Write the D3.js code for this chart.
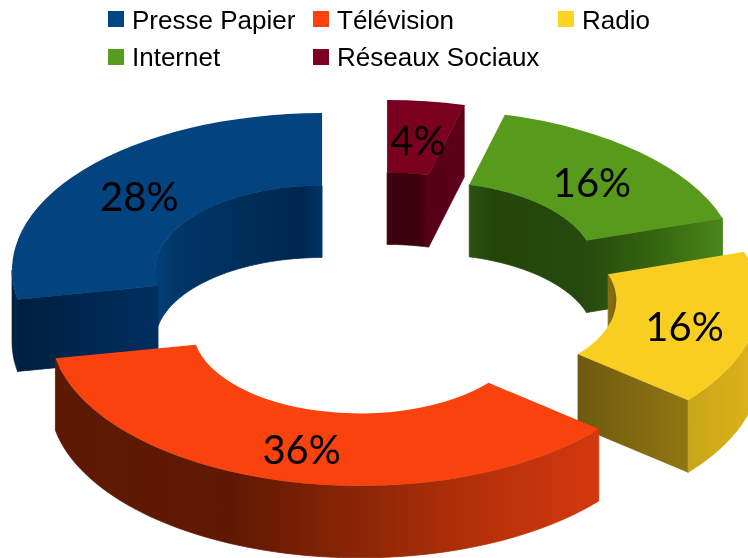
<!DOCTYPE html>
<html><head><meta charset="utf-8">
<script src="https://cdnjs.cloudflare.com/ajax/libs/d3/7.8.5/d3.min.js"></script>
<style>html,body{margin:0;padding:0;background:#fff}svg{display:block;filter:blur(0.4px)}</style>
</head><body><script>
const categories = ["Presse Papier","Télévision","Radio","Internet","Réseaux Sociaux"];
const values = [28,36,16,16,4];
const baseColors = ["#004586","#ff420e","#ffd320","#579d1c","#7e0021"];
const topColors = ["#03437f","#f9420e","#f8cf20","#579a1c","#7a0020"];
const innerStops = [
  [[0,"#013e79"],[.12,"#003768"],[.88,"#00264e"],[1,"#003766"]], null, [[0,"#8a6f10"],[1,"#7a6410"]],
  [[0,"#2b5210"],[.2,"#244509"],[1,"#264a0e"]], [[0,"#3e0010"],[.75,"#3c000f"],[1,"#560017"]]];
const cutStops = [
  [[0,"#001f40"],[1,"#002f5f"]], null, [[0,"#6d5a0f"],[1,"#917612"]],
  [[0,"#264a0e"],[.5,"#35650f"],[1,"#4a8619"]], [[0,"#560017"],[1,"#5f0019"]]];
const outerStops = [
  [[0,"#001f40"],[1,"#00234a"]],
  [[0,"#5c1a03"],[.33,"#611803"],[.55,"#8a2506"],[.8,"#b9310a"],[1,"#d4380d"]],
  [[0,"#c9a519"],[1,"#dcb41c"]], null, null];
const drawOrder = [0,4,3,2,1];

const W=748,H=558, CX=378,CY=293.4, RO=310,RI=167,K=.506,DEPTH=72,EXPLODE=72.6;
const svg=d3.select("body").append("svg").attr("width",W).attr("height",H);
const defs=svg.append("defs");
const arcs=d3.pie().sort(null).startAngle(0).endAngle(-2*Math.PI)(values);
const total=d3.sum(values), pct=d3.format(".0%");
const arcGen=d3.arc().innerRadius(RI).outerRadius(RO);
const line=d3.line().x(d=>d[0]).y(d=>d[1]);
const pt=(c,a,r,z=0)=>[c[0]-Math.sin(a)*r, c[1]-Math.cos(a)*r*K+z];
const samples=(a0,a1)=>d3.range(0,61).map(i=>a0+(a1-a0)*i/60);
const wall=(c,a0,a1,r)=>{const s=samples(a0,a1);
  return line(s.map(a=>pt(c,a,r)).concat(s.slice().reverse().map(a=>pt(c,a,r,DEPTH))))+"Z";};
const cut=(c,a)=>line([pt(c,a,RI),pt(c,a,RO),pt(c,a,RO,DEPTH),pt(c,a,RI,DEPTH)])+"Z";
let gid=0;
function grad(stops){const id="g"+(gid++);
  const g=defs.append("linearGradient").attr("id",id).attr("x1",0).attr("x2",1).attr("y1",0).attr("y2",0);
  stops.forEach(s=>g.append("stop").attr("offset",s[0]).attr("stop-color",s[1]));
  return `url(#${id})`;}
const PI=Math.PI;
function surface(g,d,stops){const f=grad(stops);
  g.append("path").attr("d",d).attr("fill",f).attr("stroke",f).attr("stroke-width",.8);}
const layers=svg.append("g");
const labelData=[];
drawOrder.forEach(i=>{
  const d=arcs[i], a0=-d.startAngle, a1=-d.endAngle, mid=(a0+a1)/2;
  const c=pt([CX,CY],mid,EXPLODE);
  const g=layers.append("g");
  // inner wall: only the far half of the ring faces the viewer
  if(innerStops[i]){
    const s=(a0<1.5*PI&&a1>1.5*PI)?1.5*PI:a0;
    const e=(a0<PI/2&&a1>PI/2)?PI/2:a1;
    surface(g,wall(c,s,e,RI),innerStops[i]);
  }
  // the cut face turned towards the viewer
  if(cutStops[i]) surface(g,cut(c,Math.sin(a1)>.01?a1:a0),cutStops[i]);
  // outer wall: near half
  if(outerStops[i]) surface(g,wall(c,Math.max(a0,PI/2),Math.min(a1,1.5*PI),RO),outerStops[i]);
  g.append("path").attr("d",arcGen(d)).attr("fill",topColors[i])
    .attr("transform",`translate(${c[0]},${c[1]}) scale(1,${K})`);
  labelData.push({i,p:pt(c,mid,(RO+RI)/2)});
});
svg.append("g").selectAll("text").data(labelData).join("text")
  .attr("x",d=>d.p[0]+1).attr("y",d=>d.p[1]+18)
  .attr("text-anchor","middle").attr("font-family","Lato").attr("font-size",40).attr("fill","#000")
  .text(d=>pct(values[d.i]/total));
// legend
const colX=[108,313,558], rowY=[11,49], textY=[18,17];
const lg=svg.append("g").selectAll("g").data(categories).join("g")
  .attr("transform",(d,i)=>`translate(${colX[i%3]},${rowY[Math.floor(i/3)]})`);
lg.append("rect").attr("width",16).attr("height",16).attr("fill",(d,i)=>baseColors[i]);
lg.append("text").attr("x",24).attr("y",(d,i)=>textY[Math.floor(i/3)]).attr("font-family","Liberation Sans").attr("font-size",26).attr("fill","#000").text(d=>d);
</script></body></html>
